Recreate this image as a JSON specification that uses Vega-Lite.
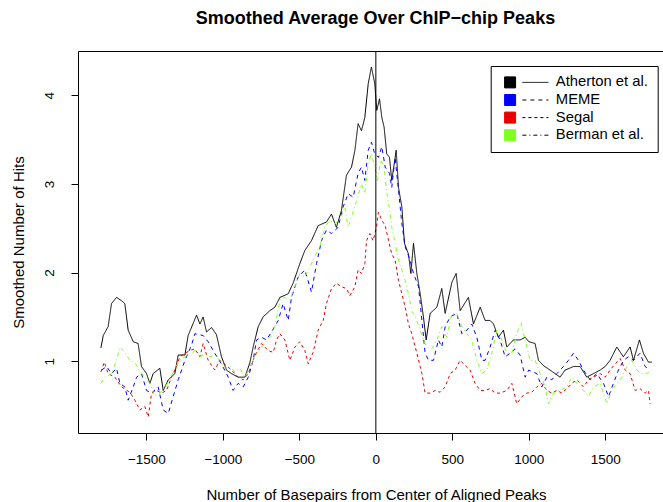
{
"$schema": "https://vega.github.io/schema/vega-lite/v6.json",
"width": 585, "height": 382,
"autosize": {"type": "none"},
"padding": {"left": 78, "top": 51, "right": 0, "bottom": 69},
"background": "white",
"config": {"view": {"stroke": null}, "font": "Liberation Sans"},
"title": {"text": "Smoothed Average Over ChIP−chip Peaks", "font": "Liberation Sans", "fontSize": 18, "fontWeight": "bold", "color": "black", "anchor": "middle", "frame": "group", "baseline": "alphabetic", "offset": 9, "dx": 5},
"data": {"values": [
{"s":"Atherton et al.","x":-1797,"y":1.15},{"s":"Atherton et al.","x":-1782,"y":1.29},{"s":"Atherton et al.","x":-1750,"y":1.39},{"s":"Atherton et al.","x":-1728,"y":1.65},{"s":"Atherton et al.","x":-1695,"y":1.72},{"s":"Atherton et al.","x":-1660,"y":1.68},{"s":"Atherton et al.","x":-1641,"y":1.65},{"s":"Atherton et al.","x":-1619,"y":1.35},{"s":"Atherton et al.","x":-1586,"y":1.22},{"s":"Atherton et al.","x":-1554,"y":1.2},{"s":"Atherton et al.","x":-1532,"y":0.94},{"s":"Atherton et al.","x":-1499,"y":0.86},{"s":"Atherton et al.","x":-1477,"y":0.75},{"s":"Atherton et al.","x":-1456,"y":0.86},{"s":"Atherton et al.","x":-1412,"y":0.92},{"s":"Atherton et al.","x":-1390,"y":0.67},{"s":"Atherton et al.","x":-1357,"y":0.79},{"s":"Atherton et al.","x":-1314,"y":0.86},{"s":"Atherton et al.","x":-1292,"y":1.07},{"s":"Atherton et al.","x":-1248,"y":1.07},{"s":"Atherton et al.","x":-1227,"y":1.29},{"s":"Atherton et al.","x":-1172,"y":1.52},{"s":"Atherton et al.","x":-1150,"y":1.42},{"s":"Atherton et al.","x":-1129,"y":1.5},{"s":"Atherton et al.","x":-1107,"y":1.33},{"s":"Atherton et al.","x":-1074,"y":1.38},{"s":"Atherton et al.","x":-1042,"y":1.3},{"s":"Atherton et al.","x":-1009,"y":1.05},{"s":"Atherton et al.","x":-976,"y":0.9},{"s":"Atherton et al.","x":-944,"y":0.86},{"s":"Atherton et al.","x":-900,"y":0.82},{"s":"Atherton et al.","x":-856,"y":0.82},{"s":"Atherton et al.","x":-824,"y":0.98},{"s":"Atherton et al.","x":-802,"y":1.16},{"s":"Atherton et al.","x":-769,"y":1.39},{"s":"Atherton et al.","x":-737,"y":1.5},{"s":"Atherton et al.","x":-693,"y":1.57},{"s":"Atherton et al.","x":-660,"y":1.61},{"s":"Atherton et al.","x":-627,"y":1.72},{"s":"Atherton et al.","x":-573,"y":1.76},{"s":"Atherton et al.","x":-541,"y":1.88},{"s":"Atherton et al.","x":-497,"y":2.1},{"s":"Atherton et al.","x":-464,"y":2.25},{"s":"Atherton et al.","x":-421,"y":2.36},{"s":"Atherton et al.","x":-377,"y":2.53},{"s":"Atherton et al.","x":-323,"y":2.57},{"s":"Atherton et al.","x":-290,"y":2.66},{"s":"Atherton et al.","x":-258,"y":2.51},{"s":"Atherton et al.","x":-225,"y":2.7},{"s":"Atherton et al.","x":-192,"y":3.1},{"s":"Atherton et al.","x":-159,"y":3.19},{"s":"Atherton et al.","x":-137,"y":3.38},{"s":"Atherton et al.","x":-116,"y":3.68},{"s":"Atherton et al.","x":-94,"y":3.6},{"s":"Atherton et al.","x":-72,"y":3.75},{"s":"Atherton et al.","x":-50,"y":4.13},{"s":"Atherton et al.","x":-29,"y":4.32},{"s":"Atherton et al.","x":-7,"y":4.13},{"s":"Atherton et al.","x":6,"y":3.83},{"s":"Atherton et al.","x":24,"y":3.96},{"s":"Atherton et al.","x":39,"y":3.75},{"s":"Atherton et al.","x":54,"y":3.64},{"s":"Atherton et al.","x":71,"y":3.34},{"s":"Atherton et al.","x":89,"y":3.3},{"s":"Atherton et al.","x":104,"y":3.04},{"s":"Atherton et al.","x":133,"y":3.38},{"s":"Atherton et al.","x":148,"y":2.96},{"s":"Atherton et al.","x":170,"y":2.74},{"s":"Atherton et al.","x":187,"y":2.33},{"s":"Atherton et al.","x":213,"y":2.21},{"s":"Atherton et al.","x":229,"y":1.99},{"s":"Atherton et al.","x":246,"y":2.33},{"s":"Atherton et al.","x":268,"y":1.99},{"s":"Atherton et al.","x":290,"y":1.76},{"s":"Atherton et al.","x":311,"y":1.5},{"s":"Atherton et al.","x":329,"y":1.24},{"s":"Atherton et al.","x":355,"y":1.54},{"s":"Atherton et al.","x":399,"y":1.61},{"s":"Atherton et al.","x":431,"y":1.82},{"s":"Atherton et al.","x":453,"y":1.54},{"s":"Atherton et al.","x":497,"y":1.89},{"s":"Atherton et al.","x":525,"y":1.99},{"s":"Atherton et al.","x":551,"y":1.57},{"s":"Atherton et al.","x":605,"y":1.72},{"s":"Atherton et al.","x":638,"y":1.42},{"s":"Atherton et al.","x":682,"y":1.61},{"s":"Atherton et al.","x":714,"y":1.46},{"s":"Atherton et al.","x":747,"y":1.46},{"s":"Atherton et al.","x":769,"y":1.42},{"s":"Atherton et al.","x":801,"y":1.27},{"s":"Atherton et al.","x":834,"y":1.35},{"s":"Atherton et al.","x":856,"y":1.16},{"s":"Atherton et al.","x":899,"y":1.24},{"s":"Atherton et al.","x":943,"y":1.24},{"s":"Atherton et al.","x":976,"y":1.27},{"s":"Atherton et al.","x":1000,"y":1.22},{"s":"Atherton et al.","x":1041,"y":1.2},{"s":"Atherton et al.","x":1063,"y":1.01},{"s":"Atherton et al.","x":1096,"y":0.95},{"s":"Atherton et al.","x":1139,"y":0.9},{"s":"Atherton et al.","x":1172,"y":0.86},{"s":"Atherton et al.","x":1204,"y":0.82},{"s":"Atherton et al.","x":1237,"y":0.9},{"s":"Atherton et al.","x":1292,"y":0.94},{"s":"Atherton et al.","x":1335,"y":0.94},{"s":"Atherton et al.","x":1379,"y":0.82},{"s":"Atherton et al.","x":1422,"y":0.86},{"s":"Atherton et al.","x":1466,"y":0.9},{"s":"Atherton et al.","x":1499,"y":0.94},{"s":"Atherton et al.","x":1531,"y":1.01},{"s":"Atherton et al.","x":1575,"y":1.16},{"s":"Atherton et al.","x":1618,"y":1.05},{"s":"Atherton et al.","x":1662,"y":1.16},{"s":"Atherton et al.","x":1684,"y":1.01},{"s":"Atherton et al.","x":1723,"y":1.24},{"s":"Atherton et al.","x":1749,"y":1.09},{"s":"Atherton et al.","x":1782,"y":0.99},{"s":"Atherton et al.","x":1804,"y":0.99},
{"s":"MEME","x":-1793,"y":0.9},{"s":"MEME","x":-1760,"y":0.94},{"s":"MEME","x":-1728,"y":0.86},{"s":"MEME","x":-1695,"y":0.92},{"s":"MEME","x":-1673,"y":0.75},{"s":"MEME","x":-1641,"y":0.71},{"s":"MEME","x":-1619,"y":0.56},{"s":"MEME","x":-1586,"y":0.71},{"s":"MEME","x":-1564,"y":0.82},{"s":"MEME","x":-1532,"y":0.86},{"s":"MEME","x":-1499,"y":0.67},{"s":"MEME","x":-1466,"y":0.64},{"s":"MEME","x":-1423,"y":0.71},{"s":"MEME","x":-1390,"y":0.45},{"s":"MEME","x":-1357,"y":0.41},{"s":"MEME","x":-1325,"y":0.6},{"s":"MEME","x":-1292,"y":0.79},{"s":"MEME","x":-1248,"y":1.01},{"s":"MEME","x":-1205,"y":1.18},{"s":"MEME","x":-1183,"y":1.31},{"s":"MEME","x":-1129,"y":1.29},{"s":"MEME","x":-1096,"y":1.22},{"s":"MEME","x":-1053,"y":1.09},{"s":"MEME","x":-1009,"y":0.97},{"s":"MEME","x":-965,"y":0.82},{"s":"MEME","x":-933,"y":0.67},{"s":"MEME","x":-900,"y":0.75},{"s":"MEME","x":-867,"y":0.71},{"s":"MEME","x":-834,"y":0.82},{"s":"MEME","x":-802,"y":1.01},{"s":"MEME","x":-780,"y":1.24},{"s":"MEME","x":-747,"y":1.27},{"s":"MEME","x":-715,"y":1.24},{"s":"MEME","x":-682,"y":1.33},{"s":"MEME","x":-638,"y":1.46},{"s":"MEME","x":-606,"y":1.65},{"s":"MEME","x":-573,"y":1.46},{"s":"MEME","x":-551,"y":1.72},{"s":"MEME","x":-508,"y":1.95},{"s":"MEME","x":-464,"y":2.03},{"s":"MEME","x":-421,"y":1.78},{"s":"MEME","x":-388,"y":2.1},{"s":"MEME","x":-355,"y":2.36},{"s":"MEME","x":-323,"y":2.48},{"s":"MEME","x":-290,"y":2.44},{"s":"MEME","x":-247,"y":2.51},{"s":"MEME","x":-214,"y":2.74},{"s":"MEME","x":-181,"y":2.89},{"s":"MEME","x":-148,"y":2.85},{"s":"MEME","x":-116,"y":3.12},{"s":"MEME","x":-94,"y":3.19},{"s":"MEME","x":-72,"y":3.04},{"s":"MEME","x":-50,"y":3.38},{"s":"MEME","x":-29,"y":3.47},{"s":"MEME","x":-7,"y":3.34},{"s":"MEME","x":17,"y":3.3},{"s":"MEME","x":39,"y":3.42},{"s":"MEME","x":61,"y":3.19},{"s":"MEME","x":89,"y":3.12},{"s":"MEME","x":104,"y":2.96},{"s":"MEME","x":126,"y":3.3},{"s":"MEME","x":148,"y":2.93},{"s":"MEME","x":170,"y":2.55},{"s":"MEME","x":192,"y":2.29},{"s":"MEME","x":224,"y":2.14},{"s":"MEME","x":246,"y":1.99},{"s":"MEME","x":279,"y":1.84},{"s":"MEME","x":301,"y":1.46},{"s":"MEME","x":322,"y":1.09},{"s":"MEME","x":344,"y":1.01},{"s":"MEME","x":377,"y":1.01},{"s":"MEME","x":409,"y":1.24},{"s":"MEME","x":431,"y":1.16},{"s":"MEME","x":453,"y":1.39},{"s":"MEME","x":486,"y":1.5},{"s":"MEME","x":529,"y":1.54},{"s":"MEME","x":562,"y":1.31},{"s":"MEME","x":595,"y":1.35},{"s":"MEME","x":627,"y":1.42},{"s":"MEME","x":660,"y":1.27},{"s":"MEME","x":693,"y":1.01},{"s":"MEME","x":714,"y":1.01},{"s":"MEME","x":747,"y":1.16},{"s":"MEME","x":780,"y":1.35},{"s":"MEME","x":812,"y":1.24},{"s":"MEME","x":845,"y":1.05},{"s":"MEME","x":878,"y":1.09},{"s":"MEME","x":910,"y":1.14},{"s":"MEME","x":943,"y":1.07},{"s":"MEME","x":976,"y":0.82},{"s":"MEME","x":1000,"y":0.9},{"s":"MEME","x":1052,"y":0.86},{"s":"MEME","x":1085,"y":0.71},{"s":"MEME","x":1118,"y":0.82},{"s":"MEME","x":1150,"y":0.79},{"s":"MEME","x":1183,"y":0.86},{"s":"MEME","x":1226,"y":0.94},{"s":"MEME","x":1259,"y":1.01},{"s":"MEME","x":1292,"y":1.09},{"s":"MEME","x":1324,"y":1.01},{"s":"MEME","x":1357,"y":0.9},{"s":"MEME","x":1401,"y":0.79},{"s":"MEME","x":1444,"y":0.86},{"s":"MEME","x":1488,"y":0.75},{"s":"MEME","x":1521,"y":0.6},{"s":"MEME","x":1553,"y":0.75},{"s":"MEME","x":1586,"y":0.9},{"s":"MEME","x":1619,"y":1.01},{"s":"MEME","x":1651,"y":1.05},{"s":"MEME","x":1684,"y":1.01},{"s":"MEME","x":1727,"y":1.09},{"s":"MEME","x":1760,"y":0.94},{"s":"MEME","x":1793,"y":0.9},
{"s":"Segal","x":-1797,"y":0.88},{"s":"Segal","x":-1775,"y":0.99},{"s":"Segal","x":-1750,"y":0.86},{"s":"Segal","x":-1706,"y":0.82},{"s":"Segal","x":-1662,"y":0.71},{"s":"Segal","x":-1608,"y":0.65},{"s":"Segal","x":-1575,"y":0.56},{"s":"Segal","x":-1543,"y":0.45},{"s":"Segal","x":-1510,"y":0.49},{"s":"Segal","x":-1488,"y":0.37},{"s":"Segal","x":-1466,"y":0.64},{"s":"Segal","x":-1434,"y":0.67},{"s":"Segal","x":-1401,"y":0.64},{"s":"Segal","x":-1368,"y":0.67},{"s":"Segal","x":-1336,"y":0.82},{"s":"Segal","x":-1303,"y":0.94},{"s":"Segal","x":-1281,"y":1.05},{"s":"Segal","x":-1248,"y":1.09},{"s":"Segal","x":-1216,"y":1.12},{"s":"Segal","x":-1183,"y":1.14},{"s":"Segal","x":-1150,"y":1.05},{"s":"Segal","x":-1129,"y":1.2},{"s":"Segal","x":-1096,"y":1.01},{"s":"Segal","x":-1053,"y":0.9},{"s":"Segal","x":-1020,"y":1.01},{"s":"Segal","x":-976,"y":0.95},{"s":"Segal","x":-944,"y":0.9},{"s":"Segal","x":-900,"y":0.82},{"s":"Segal","x":-867,"y":0.79},{"s":"Segal","x":-834,"y":0.86},{"s":"Segal","x":-813,"y":0.97},{"s":"Segal","x":-780,"y":1.1},{"s":"Segal","x":-747,"y":1.2},{"s":"Segal","x":-704,"y":1.12},{"s":"Segal","x":-671,"y":1.1},{"s":"Segal","x":-649,"y":1.24},{"s":"Segal","x":-627,"y":1.31},{"s":"Segal","x":-595,"y":1.24},{"s":"Segal","x":-562,"y":1.01},{"s":"Segal","x":-529,"y":1.16},{"s":"Segal","x":-497,"y":1.22},{"s":"Segal","x":-464,"y":1.12},{"s":"Segal","x":-442,"y":0.97},{"s":"Segal","x":-410,"y":1.1},{"s":"Segal","x":-377,"y":1.35},{"s":"Segal","x":-344,"y":1.46},{"s":"Segal","x":-323,"y":1.65},{"s":"Segal","x":-290,"y":1.82},{"s":"Segal","x":-258,"y":1.88},{"s":"Segal","x":-225,"y":1.84},{"s":"Segal","x":-192,"y":1.82},{"s":"Segal","x":-170,"y":1.74},{"s":"Segal","x":-137,"y":1.84},{"s":"Segal","x":-116,"y":2.03},{"s":"Segal","x":-94,"y":1.99},{"s":"Segal","x":-72,"y":2.1},{"s":"Segal","x":-61,"y":2.36},{"s":"Segal","x":-39,"y":2.44},{"s":"Segal","x":-18,"y":2.36},{"s":"Segal","x":4,"y":2.51},{"s":"Segal","x":17,"y":2.68},{"s":"Segal","x":39,"y":2.59},{"s":"Segal","x":61,"y":2.53},{"s":"Segal","x":83,"y":2.36},{"s":"Segal","x":104,"y":2.21},{"s":"Segal","x":126,"y":2.14},{"s":"Segal","x":148,"y":1.91},{"s":"Segal","x":170,"y":1.76},{"s":"Segal","x":192,"y":1.61},{"s":"Segal","x":213,"y":1.42},{"s":"Segal","x":235,"y":1.31},{"s":"Segal","x":268,"y":1.09},{"s":"Segal","x":301,"y":0.86},{"s":"Segal","x":322,"y":0.64},{"s":"Segal","x":355,"y":0.64},{"s":"Segal","x":388,"y":0.67},{"s":"Segal","x":420,"y":0.65},{"s":"Segal","x":453,"y":0.71},{"s":"Segal","x":486,"y":0.86},{"s":"Segal","x":518,"y":0.9},{"s":"Segal","x":551,"y":1.01},{"s":"Segal","x":584,"y":0.95},{"s":"Segal","x":616,"y":0.9},{"s":"Segal","x":649,"y":0.75},{"s":"Segal","x":682,"y":0.67},{"s":"Segal","x":714,"y":0.67},{"s":"Segal","x":747,"y":0.69},{"s":"Segal","x":780,"y":0.64},{"s":"Segal","x":812,"y":0.64},{"s":"Segal","x":856,"y":0.67},{"s":"Segal","x":889,"y":0.75},{"s":"Segal","x":921,"y":0.52},{"s":"Segal","x":954,"y":0.6},{"s":"Segal","x":987,"y":0.64},{"s":"Segal","x":1019,"y":0.65},{"s":"Segal","x":1052,"y":0.71},{"s":"Segal","x":1085,"y":0.75},{"s":"Segal","x":1118,"y":0.67},{"s":"Segal","x":1150,"y":0.64},{"s":"Segal","x":1183,"y":0.67},{"s":"Segal","x":1216,"y":0.64},{"s":"Segal","x":1248,"y":0.69},{"s":"Segal","x":1281,"y":0.75},{"s":"Segal","x":1314,"y":0.79},{"s":"Segal","x":1357,"y":0.71},{"s":"Segal","x":1390,"y":0.79},{"s":"Segal","x":1423,"y":0.82},{"s":"Segal","x":1466,"y":0.86},{"s":"Segal","x":1499,"y":0.82},{"s":"Segal","x":1531,"y":0.9},{"s":"Segal","x":1564,"y":0.97},{"s":"Segal","x":1597,"y":1.03},{"s":"Segal","x":1630,"y":0.9},{"s":"Segal","x":1662,"y":0.86},{"s":"Segal","x":1695,"y":0.67},{"s":"Segal","x":1727,"y":0.69},{"s":"Segal","x":1760,"y":0.64},{"s":"Segal","x":1782,"y":0.67},{"s":"Segal","x":1793,"y":0.52},
{"s":"Berman et al.","x":-1797,"y":0.75},{"s":"Berman et al.","x":-1771,"y":0.82},{"s":"Berman et al.","x":-1728,"y":0.86},{"s":"Berman et al.","x":-1695,"y":1.01},{"s":"Berman et al.","x":-1673,"y":1.16},{"s":"Berman et al.","x":-1641,"y":1.1},{"s":"Berman et al.","x":-1608,"y":1.01},{"s":"Berman et al.","x":-1575,"y":0.99},{"s":"Berman et al.","x":-1543,"y":0.88},{"s":"Berman et al.","x":-1510,"y":0.82},{"s":"Berman et al.","x":-1477,"y":0.75},{"s":"Berman et al.","x":-1445,"y":0.6},{"s":"Berman et al.","x":-1412,"y":0.64},{"s":"Berman et al.","x":-1379,"y":0.71},{"s":"Berman et al.","x":-1346,"y":0.79},{"s":"Berman et al.","x":-1314,"y":0.92},{"s":"Berman et al.","x":-1281,"y":1.01},{"s":"Berman et al.","x":-1248,"y":1.05},{"s":"Berman et al.","x":-1216,"y":1.07},{"s":"Berman et al.","x":-1183,"y":1.12},{"s":"Berman et al.","x":-1150,"y":1.05},{"s":"Berman et al.","x":-1118,"y":1.09},{"s":"Berman et al.","x":-1085,"y":1.05},{"s":"Berman et al.","x":-1053,"y":1.07},{"s":"Berman et al.","x":-1020,"y":1.01},{"s":"Berman et al.","x":-987,"y":0.92},{"s":"Berman et al.","x":-954,"y":0.95},{"s":"Berman et al.","x":-922,"y":0.88},{"s":"Berman et al.","x":-889,"y":0.92},{"s":"Berman et al.","x":-856,"y":0.82},{"s":"Berman et al.","x":-824,"y":0.92},{"s":"Berman et al.","x":-791,"y":1.05},{"s":"Berman et al.","x":-758,"y":1.14},{"s":"Berman et al.","x":-726,"y":1.2},{"s":"Berman et al.","x":-693,"y":1.27},{"s":"Berman et al.","x":-660,"y":1.39},{"s":"Berman et al.","x":-627,"y":1.69},{"s":"Berman et al.","x":-595,"y":1.72},{"s":"Berman et al.","x":-562,"y":1.69},{"s":"Berman et al.","x":-529,"y":1.84},{"s":"Berman et al.","x":-497,"y":1.99},{"s":"Berman et al.","x":-464,"y":1.95},{"s":"Berman et al.","x":-432,"y":2.06},{"s":"Berman et al.","x":-399,"y":2.18},{"s":"Berman et al.","x":-366,"y":2.29},{"s":"Berman et al.","x":-334,"y":2.51},{"s":"Berman et al.","x":-301,"y":2.59},{"s":"Berman et al.","x":-268,"y":2.55},{"s":"Berman et al.","x":-236,"y":2.59},{"s":"Berman et al.","x":-203,"y":2.74},{"s":"Berman et al.","x":-181,"y":2.51},{"s":"Berman et al.","x":-159,"y":2.63},{"s":"Berman et al.","x":-126,"y":2.81},{"s":"Berman et al.","x":-94,"y":3.0},{"s":"Berman et al.","x":-72,"y":2.89},{"s":"Berman et al.","x":-50,"y":3.23},{"s":"Berman et al.","x":-29,"y":3.34},{"s":"Berman et al.","x":-7,"y":3.19},{"s":"Berman et al.","x":11,"y":3.04},{"s":"Berman et al.","x":32,"y":3.27},{"s":"Berman et al.","x":54,"y":3.19},{"s":"Berman et al.","x":72,"y":2.89},{"s":"Berman et al.","x":87,"y":2.74},{"s":"Berman et al.","x":104,"y":2.51},{"s":"Berman et al.","x":126,"y":2.33},{"s":"Berman et al.","x":148,"y":2.14},{"s":"Berman et al.","x":170,"y":2.03},{"s":"Berman et al.","x":192,"y":1.91},{"s":"Berman et al.","x":213,"y":1.76},{"s":"Berman et al.","x":235,"y":1.57},{"s":"Berman et al.","x":257,"y":1.5},{"s":"Berman et al.","x":290,"y":1.35},{"s":"Berman et al.","x":311,"y":1.24},{"s":"Berman et al.","x":333,"y":1.16},{"s":"Berman et al.","x":366,"y":1.14},{"s":"Berman et al.","x":399,"y":1.24},{"s":"Berman et al.","x":431,"y":1.39},{"s":"Berman et al.","x":464,"y":1.27},{"s":"Berman et al.","x":497,"y":1.54},{"s":"Berman et al.","x":529,"y":1.54},{"s":"Berman et al.","x":562,"y":1.39},{"s":"Berman et al.","x":595,"y":1.31},{"s":"Berman et al.","x":627,"y":1.24},{"s":"Berman et al.","x":660,"y":1.01},{"s":"Berman et al.","x":693,"y":0.86},{"s":"Berman et al.","x":725,"y":0.9},{"s":"Berman et al.","x":758,"y":1.09},{"s":"Berman et al.","x":791,"y":1.35},{"s":"Berman et al.","x":823,"y":1.24},{"s":"Berman et al.","x":856,"y":1.09},{"s":"Berman et al.","x":889,"y":1.09},{"s":"Berman et al.","x":921,"y":1.31},{"s":"Berman et al.","x":948,"y":1.44},{"s":"Berman et al.","x":976,"y":1.24},{"s":"Berman et al.","x":1008,"y":1.01},{"s":"Berman et al.","x":1041,"y":1.01},{"s":"Berman et al.","x":1074,"y":0.86},{"s":"Berman et al.","x":1107,"y":0.71},{"s":"Berman et al.","x":1129,"y":0.52},{"s":"Berman et al.","x":1161,"y":0.64},{"s":"Berman et al.","x":1205,"y":0.67},{"s":"Berman et al.","x":1248,"y":0.71},{"s":"Berman et al.","x":1281,"y":0.82},{"s":"Berman et al.","x":1314,"y":0.75},{"s":"Berman et al.","x":1357,"y":0.67},{"s":"Berman et al.","x":1390,"y":0.6},{"s":"Berman et al.","x":1423,"y":0.71},{"s":"Berman et al.","x":1466,"y":0.75},{"s":"Berman et al.","x":1510,"y":0.52},{"s":"Berman et al.","x":1542,"y":0.67},{"s":"Berman et al.","x":1575,"y":0.75},{"s":"Berman et al.","x":1608,"y":0.82},{"s":"Berman et al.","x":1641,"y":0.94},{"s":"Berman et al.","x":1673,"y":1.01},{"s":"Berman et al.","x":1706,"y":0.9},{"s":"Berman et al.","x":1738,"y":0.86},{"s":"Berman et al.","x":1771,"y":0.86},{"s":"Berman et al.","x":1804,"y":0.9}
]},
"layer": [
{
"mark": {"type": "line", "strokeWidth": 1, "interpolate": "linear"},
"encoding": {
"x": {"field": "x", "type": "quantitative", "scale": {"domain": [-1947, 1877], "nice": false, "zero": false},
 "axis": {"values": [-1500, -1000, -500, 0, 500, 1000, 1500], "format": "d", "grid": false, "tickSize": 7, "tickColor": "black", "tickWidth": 1, "domainColor": "black", "domainWidth": 1, "labelFont": "Liberation Sans", "labelFontSize": 13.5, "labelColor": "black", "labelBaseline": "alphabetic", "labelPadding": 23, "labelFlush": false, "labelOverlap": false, "title": "Number of Basepairs from Center of Aligned Peaks", "titleFont": "Liberation Sans", "titleFontSize": 15, "titleFontWeight": "normal", "titleColor": "black", "titleBaseline": "alphabetic", "titleX": 298, "titleY": 66}},
"y": {"field": "y", "type": "quantitative", "scale": {"domain": [0.19, 4.5], "nice": false, "zero": false},
 "axis": {"values": [1, 2, 3, 4], "grid": false, "tickSize": 7, "tickColor": "black", "tickWidth": 1, "domainColor": "black", "domainWidth": 1, "labelFont": "Liberation Sans", "labelFontSize": 13.5, "labelColor": "black", "labelAngle": 270, "labelAlign": "center", "labelBaseline": "alphabetic", "labelPadding": 18, "labelFlush": false, "labelOverlap": false, "title": "Smoothed Number of Hits", "titleFont": "Liberation Sans", "titleFontSize": 15, "titleFontWeight": "normal", "titleColor": "black", "titleAngle": 270, "titleAlign": "center", "titleBaseline": "alphabetic", "titleX": -54.6, "titleY": 191}},
"color": {"field": "s", "type": "nominal",
 "scale": {"domain": ["Atherton et al.", "MEME", "Segal", "Berman et al."], "range": ["#000000", "#0000FF", "#E80000", "#80FF20"]},
 "legend": {"orient": "none", "direction": "vertical", "legendX": 412.7, "legendY": 15, "title": null, "padding": 9, "strokeColor": "black", "symbolType": "square", "symbolSize": 121, "symbolStrokeWidth": 1, "symbolOffset": 3, "labelFont": "Liberation Sans", "labelFontSize": 14.8, "labelColor": "black", "labelOffset": 38.3, "labelLimit": 300, "rowPadding": 1.6, "zindex": 1,
  "encode": {"symbols": {"update": {"fill": {"scale": "color", "field": "value"}, "fillOpacity": {"value": 1}, "stroke": {"value": "black"}, "strokeWidth": {"value": 1}, "opacity": {"value": 1}}}}}},
"strokeDash": {"field": "s", "type": "nominal", "sort": ["Atherton et al.", "MEME", "Segal", "Berman et al."],
 "scale": {"range": [[1, 0], [4, 4], [3, 3], [4, 3, 1, 3]]},
 "legend": {"orient": "none", "direction": "vertical", "legendX": 441, "legendY": 15, "title": null, "padding": 9, "symbolType": "M-3.25,0H3.25", "symbolSize": 64, "symbolStrokeWidth": 1, "symbolStrokeColor": "black", "labelFont": "Liberation Sans", "labelFontSize": 14.8, "labelOpacity": 0, "labelExpr": "''", "rowPadding": 1.6, "zindex": 2,
  "encode": {"symbols": {"update": {"stroke": {"value": "black"}, "strokeDash": {"signal": "datum.value === 'MEME' ? [4,4] : datum.value === 'Segal' ? [1,3] : datum.value === 'Berman et al.' ? [1,3,4,3] : [1,0]"}}}}}}
}
},
{
"data": {"values": [{"x": 0}]},
"mark": {"type": "rule", "color": "black", "strokeWidth": 1},
"encoding": {"x": {"field": "x", "type": "quantitative", "axis": {"orient": "top", "labels": false, "ticks": false, "title": null, "grid": false, "domainColor": "black", "domainWidth": 1}}}
}
],
"resolve": {"axis": {"x": "independent"}}
}
